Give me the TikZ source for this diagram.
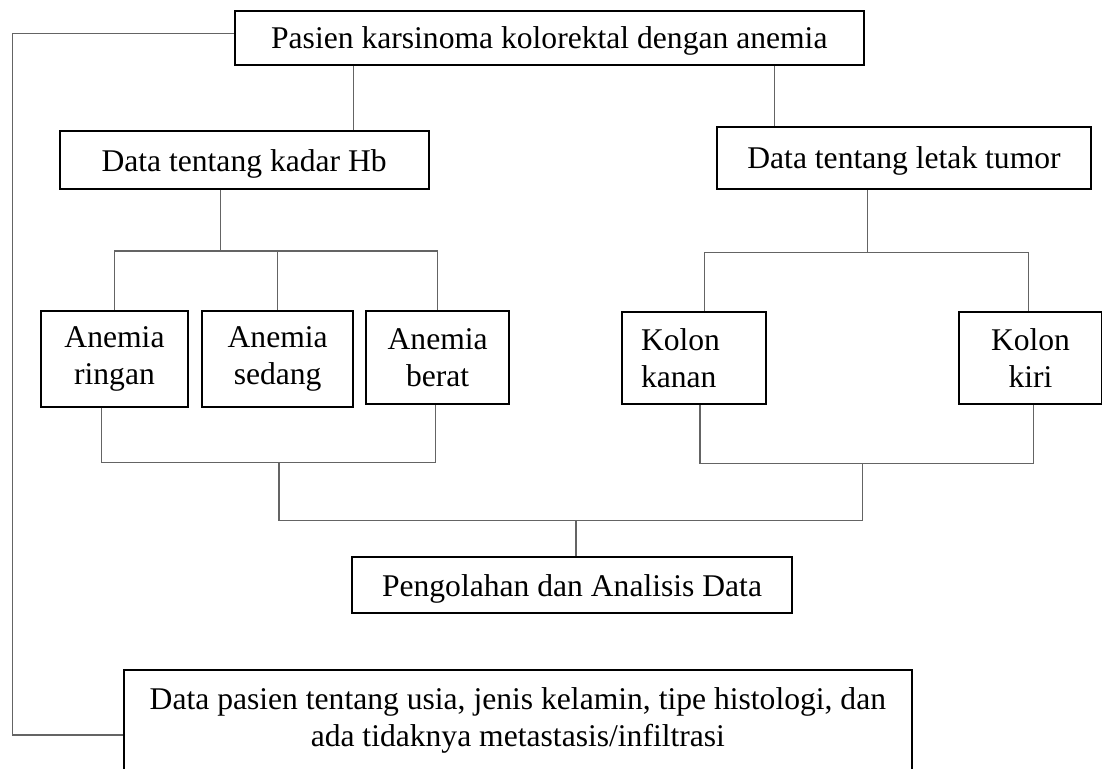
\documentclass[tikz,border=0pt]{standalone}
\usepackage{fontspec}
\setmainfont{Liberation Serif}
\usepackage{tikz}
\definecolor{LineGray}{RGB}{100,100,100}

\begin{document}
\begin{tikzpicture}[
    x=0.5pt, y=-0.5pt,
    box/.style={draw, line width=1pt, inner sep=0pt, align=center,
        font=\fontsize{15.8}{18.2}\selectfont},
    oneline/.style={box, text depth=0pt},
    link/.style={draw=LineGray, line width=0.6pt}
]

% Frame
\useasboundingbox (0,0) rectangle (1102,769);
\clip (0,0) rectangle (1102,769);

% Top and data boxes
\node[oneline, minimum width=314.7pt, minimum height=27pt] (pasien) at (549.3,38)
    {Pasien karsinoma kolorektal dengan anemia};
\node[oneline, minimum width=184.5pt, minimum height=29.15pt] (hb) at (244.1,160.2)
    {Data tentang kadar Hb};
\node[oneline, minimum width=186.7pt, minimum height=31.15pt] (letak) at (904,157.9)
    {Data tentang letak tumor};

% Groups
\node[box, minimum width=73.8pt, minimum height=47.85pt] (ringan) at (114.5,358.85)
    {Anemia\\ringan};
\node[box, minimum width=75.65pt, minimum height=47.85pt] (sedang) at (277.65,358.85)
    {Anemia\\sedang};
\node[box, minimum width=71.65pt, minimum height=46.5pt] (berat) at (437.65,357.5)
    {Anemia\\berat};
\node[box, align=left, text width=52.7pt, minimum width=72pt, minimum height=46.3pt]
    (kanan) at (693.7,358) {Kolon\\kanan};
\node[box, minimum width=71.2pt, minimum height=46.3pt] (kiri) at (1030.5,358)
    {Kolon\\kiri};

% Analysis
\node[oneline, minimum width=219.7pt, minimum height=27.85pt] (analisis) at (572,585.15)
    {Pengolahan dan Analisis Data};
\node[box, anchor=north, inner xsep=0pt, inner ysep=8.85pt, minimum width=393.85pt]
    (datapasien) at (517.85,669)
    {Data pasien tentang usia, jenis kelamin, tipe histologi, dan\\
     ada tidaknya metastasis/infiltrasi\\ \mbox{}};

% Junctions
\coordinate (hbsplit) at (220.4,251);
\coordinate (tumorsplit) at (867.3,252.3);
\coordinate (anemiajoin) at (279,462.7);
\coordinate (kolonjoin) at (862.7,463.3);
\coordinate (datajoin) at (576,520.7);
\coordinate (sisi) at (12.3,735);

% Connectors
\draw[link] ([xshift=54.75pt]hb.north) -- ([xshift=54.75pt]hb.north |- pasien.south);
\draw[link] ([xshift=-64.85pt]letak.north) -- ([xshift=-64.85pt]letak.north |- pasien.south);

\draw[link] (hb.south -| hbsplit) -- (hbsplit);
\draw[link] (ringan.north) |- (hbsplit) -| (berat.north);
\draw[link] (sedang.north) -- (sedang.north |- hbsplit);

\draw[link] (letak.south -| tumorsplit) -- (tumorsplit);
\draw[link] ([xshift=5.3pt]kanan.north) |- (tumorsplit) -| ([xshift=-1pt]kiri.north);

\draw[link] ([xshift=-6.4pt]ringan.south) |- (anemiajoin) -| ([xshift=-1pt]berat.south);
\draw[link] ([xshift=3.15pt]kanan.south) |- (kolonjoin) -| ([xshift=1.4pt]kiri.south);
\draw[link] (anemiajoin) |- (datajoin) -| (kolonjoin);
\draw[link] (datajoin) -- (analisis.north -| datajoin);

\draw[link] ([yshift=2.35pt]pasien.west) -| (sisi) -- (sisi -| datapasien.west);

\end{tikzpicture}
\end{document}
